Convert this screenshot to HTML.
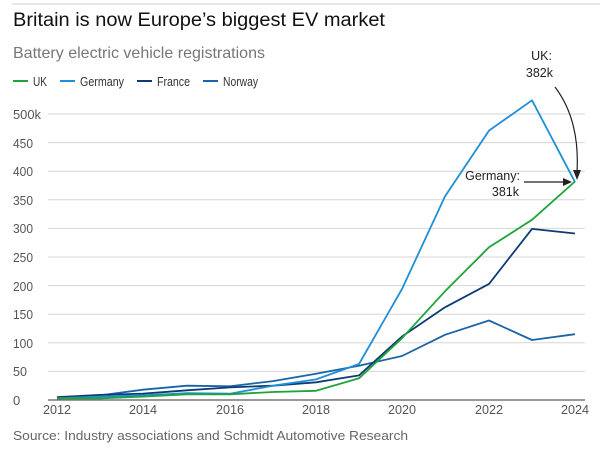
<!DOCTYPE html><html><head><style>body{margin:0;background:#fff;font-family:"Liberation Sans",sans-serif}</style></head><body>
<svg width="613" height="454" xmlns="http://www.w3.org/2000/svg" font-family="Liberation Sans, sans-serif">
<line x1="12" y1="4" x2="600" y2="4" stroke="#ccc" stroke-width="1"/>
<text x="13" y="26" font-size="19" fill="#111" textLength="372" lengthAdjust="spacingAndGlyphs">Britain is now Europe’s biggest EV market</text>
<text x="13" y="58" font-size="16" fill="#777" textLength="252" lengthAdjust="spacingAndGlyphs">Battery electric vehicle registrations</text>
<g font-size="13" fill="#333">
<line x1="13" y1="81" x2="28" y2="81" stroke="#1fa33a" stroke-width="2"/><text x="33" y="86" textLength="14" lengthAdjust="spacingAndGlyphs">UK</text>
<line x1="60" y1="81" x2="75" y2="81" stroke="#1f8fd8" stroke-width="2"/><text x="80" y="86" textLength="44" lengthAdjust="spacingAndGlyphs">Germany</text>
<line x1="137" y1="81" x2="152" y2="81" stroke="#0d3c75" stroke-width="2"/><text x="157" y="86" textLength="33" lengthAdjust="spacingAndGlyphs">France</text>
<line x1="203" y1="81" x2="218" y2="81" stroke="#1a64a8" stroke-width="2"/><text x="223" y="86" textLength="35" lengthAdjust="spacingAndGlyphs">Norway</text>
</g>
<g stroke="#d6d6d6" stroke-width="1">
<line x1="48" y1="114" x2="585" y2="114"/><line x1="48" y1="142.6" x2="585" y2="142.6"/><line x1="48" y1="171.2" x2="585" y2="171.2"/><line x1="48" y1="199.8" x2="585" y2="199.8"/><line x1="48" y1="228.4" x2="585" y2="228.4"/><line x1="48" y1="257" x2="585" y2="257"/><line x1="48" y1="285.6" x2="585" y2="285.6"/><line x1="48" y1="314.2" x2="585" y2="314.2"/><line x1="48" y1="342.8" x2="585" y2="342.8"/><line x1="48" y1="371.4" x2="585" y2="371.4"/>
</g>
<line x1="48" y1="400" x2="585" y2="400" stroke="#333" stroke-width="1"/>
<g font-size="13" fill="#555" lengthAdjust="spacingAndGlyphs">
<text x="13" y="119" textLength="28" lengthAdjust="spacingAndGlyphs">500k</text><text x="13" y="148" textLength="20" lengthAdjust="spacingAndGlyphs">450</text><text x="13" y="176" textLength="20" lengthAdjust="spacingAndGlyphs">400</text><text x="13" y="205" textLength="20" lengthAdjust="spacingAndGlyphs">350</text><text x="13" y="233" textLength="20" lengthAdjust="spacingAndGlyphs">300</text><text x="13" y="262" textLength="20" lengthAdjust="spacingAndGlyphs">250</text><text x="13" y="291" textLength="20" lengthAdjust="spacingAndGlyphs">200</text><text x="13" y="319" textLength="20" lengthAdjust="spacingAndGlyphs">150</text><text x="13" y="348" textLength="20" lengthAdjust="spacingAndGlyphs">100</text><text x="13" y="376" textLength="14" lengthAdjust="spacingAndGlyphs">50</text><text x="13" y="405">0</text>
<text x="43" y="414" textLength="28" lengthAdjust="spacingAndGlyphs">2012</text><text x="129" y="414" textLength="28" lengthAdjust="spacingAndGlyphs">2014</text><text x="216" y="414" textLength="28" lengthAdjust="spacingAndGlyphs">2016</text><text x="302" y="414" textLength="28" lengthAdjust="spacingAndGlyphs">2018</text><text x="388" y="414" textLength="28" lengthAdjust="spacingAndGlyphs">2020</text><text x="475" y="414" textLength="28" lengthAdjust="spacingAndGlyphs">2022</text><text x="561" y="414" textLength="28" lengthAdjust="spacingAndGlyphs">2024</text>
</g>
<g fill="none" stroke-width="1.8" stroke-linejoin="round">
<polyline stroke="#1a64a8" points="57,397.7 100,395.4 143,389.7 187,385.7 230,386.3 273,381.1 316,373.7 359,365.7 402,356 445,334.8 489,320.5 532,340 575,334.2"/>
<polyline stroke="#0d3c75" points="57,397.1 100,394.9 143,393.7 187,390.3 230,387.4 273,385.7 316,382.3 359,375.4 402,336.5 445,307.3 489,283.9 532,228.9 575,233.5"/>
<polyline stroke="#1f8fd8" points="57,398.3 100,396.6 143,395.4 187,393.1 230,393.7 273,385.7 316,379.4 359,364 402,289 445,196.4 489,130.6 532,100.3 575,182.1"/>
<polyline stroke="#1fa33a" points="57,398.3 100,398.3 143,396.6 187,394.3 230,394.3 273,392 316,390.8 359,378.3 402,338.2 445,291.3 489,247.3 532,219.8 575,181.5"/>
</g>
<g font-size="12.5" fill="#222" text-anchor="end">
<text x="552" y="60">UK:</text><text x="553" y="77">382k</text>
<text x="520" y="180">Germany:</text><text x="519" y="196">381k</text>
</g>
<path d="M555,87 Q580,120 577,172" fill="none" stroke="#222" stroke-width="1.2"/>
<path d="M573,170 L577,180 L581,170 Z" fill="#222"/>
<line x1="524" y1="182" x2="564" y2="182" stroke="#222" stroke-width="1.2"/>
<path d="M563,178 L572,182 L563,186 Z" fill="#222"/>
<text x="13" y="440" font-size="13" fill="#666" textLength="395" lengthAdjust="spacingAndGlyphs">Source: Industry associations and Schmidt Automotive Research</text>
</svg></body></html>
